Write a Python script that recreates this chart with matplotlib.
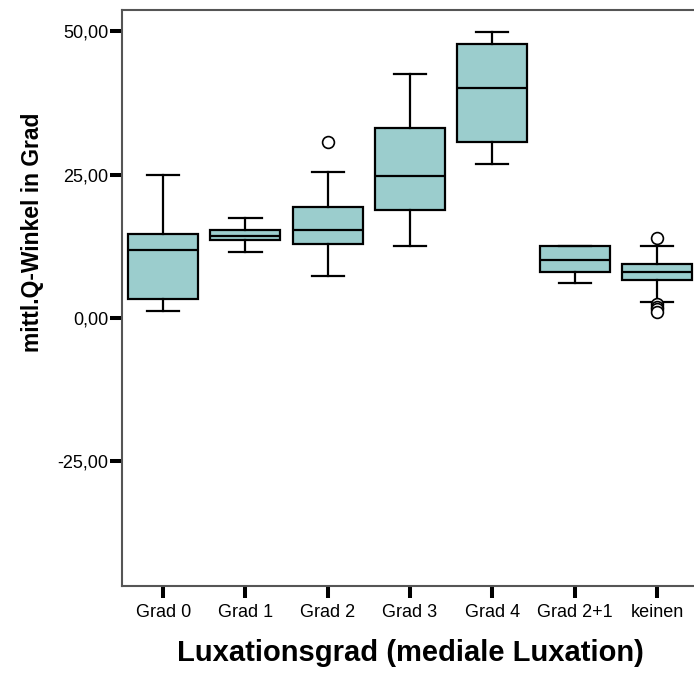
import matplotlib
matplotlib.use("Agg")
import matplotlib.pyplot as plt
import numpy as np

# === DATA (mittl. Q-Winkel je Luxationsgrad) ===
groups   = ["Grad 0", "Grad 1", "Grad 2", "Grad 3", "Grad 4", "Grad 2+1", "keinen"]
whislo   = [1.3, 11.5, 7.3, 12.6, 26.9, 6.2, 2.8]
q1       = [3.4, 13.6, 12.9, 18.8, 30.7, 8.0, 6.6]
median   = [11.9, 14.3, 15.4, 24.8, 40.2, 10.2, 8.0]
q3       = [14.6, 15.4, 19.4, 33.2, 47.8, 12.5, 9.4]
whishi   = [24.9, 17.4, 25.4, 42.6, 49.9, 12.5, 12.5]
outliers = [[], [], [30.7], [], [], [], [13.9, 2.4, 1.9, 1.5, 1.1]]

yticks      = [-25, 0, 25, 50]
ytick_names = ["-25,00", "0,00", "25,00", "50,00"]

# === STYLE ===
plt.rcParams["font.family"] = ["Liberation Sans", "DejaVu Sans"]
box_color  = "#9bcdcd"
spine_gray = "#555555"

stats = []
for i, name in enumerate(groups):
    stats.append({
        "label": name,
        "whislo": whislo[i], "q1": q1[i], "med": median[i],
        "q3": q3[i], "whishi": whishi[i], "fliers": outliers[i],
    })

fig = plt.figure(figsize=(6.94, 6.80), dpi=100)
ax = fig.add_axes([0.1758, 0.1387, 0.8242, 0.8466])

pos = np.arange(len(groups))
ax.bxp(stats, positions=pos, widths=0.85, capwidths=0.39,
       patch_artist=True,
       boxprops=dict(facecolor=box_color, edgecolor="black", linewidth=1.6),
       medianprops=dict(color="black", linewidth=1.6),
       whiskerprops=dict(color="black", linewidth=1.6),
       capprops=dict(color="black", linewidth=1.6),
       flierprops=dict(marker="o", markersize=8.5, markerfacecolor="white",
                       markeredgecolor="black", markeredgewidth=1.2))

# === AXES ===
ax.set_xlim(-0.5, 6.45)
ax.set_ylim(-46.7, 53.75)
ax.set_yticks(yticks)
ax.set_yticklabels(ytick_names)
ax.set_xticks(pos)
ax.set_xticklabels(groups)

ax.tick_params(axis="y", length=8.5, width=2.9, color="black", pad=1.5, labelsize=13)
ax.tick_params(axis="x", length=8.5, width=2.9, color="black", pad=5, labelsize=13)

for side in ["left", "top", "bottom"]:
    ax.spines[side].set_color(spine_gray)
    ax.spines[side].set_linewidth(1.5)
ax.spines["right"].set_visible(False)

ax.set_ylabel("mittl.Q-Winkel in Grad", fontsize=16.5, fontweight="bold", va="center")
ax.yaxis.set_label_coords(-0.157, 0.614)
ax.set_xlabel("Luxationsgrad (mediale Luxation)", fontsize=21, fontweight="bold", va="center")
ax.xaxis.set_label_coords(0.505, -0.117)

fig.savefig("out.png", dpi=100)
